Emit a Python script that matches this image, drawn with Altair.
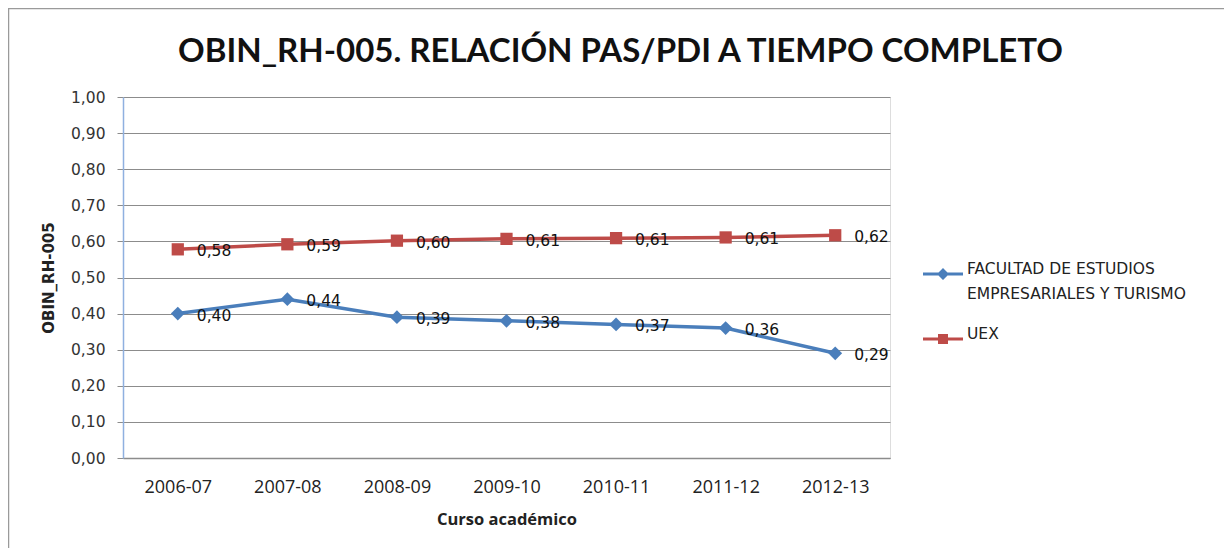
import altair as alt
import pandas as pd

cursos = ["2006-07", "2007-08", "2008-09", "2009-10", "2010-11", "2011-12", "2012-13"]
serie_fac = "FACULTAD DE ESTUDIOS EMPRESARIALES Y TURISMO"
serie_uex = "UEX"
valores_fac = [0.40, 0.44, 0.39, 0.38, 0.37, 0.36, 0.29]
valores_uex = [0.578, 0.592, 0.602, 0.607, 0.609, 0.611, 0.617]
series = [serie_fac, serie_uex]
colores = ["#4a7ebb", "#be4b48"]
formas = ["diamond", "square"]
tamanos = [190, 150]
simbolos_leyenda = [
    "M-1,-0.07H1V0.07H-1Z M0,-0.3L0.3,0L0,0.3L-0.3,0Z",
    "M-1,-0.07H1V0.07H-1Z M-0.25,-0.25H0.25V0.25H-0.25Z",
]
y_ticks = [0.0, 0.1, 0.2, 0.3, 0.4, 0.5, 0.6, 0.7, 0.8, 0.9, 1.0]

df = pd.DataFrame(
    {
        "curso": cursos * 2,
        "valor": valores_fac + valores_uex,
        "serie": [serie_fac] * len(cursos) + [serie_uex] * len(cursos),
    }
)

W, H = 767, 361
PAD_L, PAD_T = 115, 89
TOTAL_W, TOTAL_H = 1216, 540

x_enc = alt.X(
    "curso:N",
    sort=cursos,
    scale=alt.Scale(type="point", padding=0.5),
    axis=alt.Axis(
        title="Curso académico",
        labelFont="Open Sans",
        labelFontSize=18,
        labelColor="#222",
        labelAngle=0,
        labelPadding=20,
        ticks=False,
        domainColor="#8c8c8c",
        domainWidth=1.5,
        grid=False,
        titleFont="Open Sans",
        titleFontSize=16.5,
        titleFontWeight="bold",
        titleColor="#222",
        titlePadding=15,
    ),
)
y_enc = alt.Y(
    "valor:Q",
    scale=alt.Scale(domain=[0, 1], nice=False),
    axis=alt.Axis(
        title="OBIN_RH-005",
        values=y_ticks,
        labelExpr="replace(format(datum.value, '.2f'), '.', ',')",
        labelFont="DejaVu Sans",
        labelFontSize=15.5,
        labelColor="#333",
        labelPadding=12,
        tickSize=6,
        tickColor="#8c8c8c",
        domainColor="#8fb0e0",
        domainWidth=1.5,
        gridColor="#8c8c8c",
        gridWidth=1,
        titleFont="DejaVu Sans",
        titleFontSize=15,
        titleFontWeight="bold",
        titleColor="#222",
        titleX=-75,
        titleY=H / 2,
        titleAngle=-90,
        titleAlign="center",
        titleBaseline="middle",
    ),
)

borde = alt.Chart(pd.DataFrame({"k": [0]})).mark_rect(
    fill=None, stroke="#9a9a9a", strokeWidth=1.5, clip=False
).encode(
    x=alt.value(-PAD_L + 0.5),
    x2=alt.value(TOTAL_W - PAD_L + 10),
    y=alt.value(-PAD_T + 0.5),
    y2=alt.value(TOTAL_H - PAD_T + 10),
)

base = alt.Chart(df)

capas = [borde]
for s, c in zip(series, colores):
    capas.append(
        base.transform_filter(alt.datum.serie == s)
        .mark_line(strokeWidth=3.5, color=c)
        .encode(x=x_enc, y=y_enc)
    )
for s, c, f, t in zip(series, colores, formas, tamanos):
    capas.append(
        base.transform_filter(alt.datum.serie == s)
        .mark_point(shape=f, filled=True, size=t, opacity=1, color=c)
        .encode(x=x_enc, y=y_enc)
    )

etiquetas = base.transform_calculate(
    lbl="replace(format(datum.valor, '.2f'), '.', ',')"
).mark_text(
    align="left", baseline="middle", dx=19, dy=2, font="DejaVu Sans", fontSize=15.5, color="#111"
).encode(x=x_enc, y=y_enc, text="lbl:N")
capas.append(etiquetas)

leyenda = base.transform_filter("false").mark_point(filled=True, opacity=1).encode(
    x=x_enc,
    y=y_enc,
    color=alt.Color(
        "serie:N",
        scale=alt.Scale(domain=series, range=colores),
        legend=alt.Legend(
            title=None,
            orient="none",
            legendX=800,
            legendY=157,
            symbolSize=1600,
            symbolStrokeWidth=0,
            symbolOpacity=1,
            labelFont="DejaVu Sans",
            labelFontSize=15.5,
            labelColor="#222",
            labelBaseline="alphabetic",
            labelOffset=4,
            labelLimit=400,
            rowPadding=16,
            labelExpr="datum.label == '" + serie_fac + "' ? ['FACULTAD DE ESTUDIOS', 'EMPRESARIALES Y TURISMO'] : datum.label",
        ),
    ),
    shape=alt.Shape("serie:N", scale=alt.Scale(domain=series, range=simbolos_leyenda)),
)
capas.append(leyenda)

chart = (
    alt.layer(*capas)
    .properties(
        width=W,
        height=H,
        padding={"left": PAD_L, "top": PAD_T, "right": TOTAL_W - PAD_L - W, "bottom": TOTAL_H - PAD_T - H},
        autosize=alt.AutoSizeParams(type="none"),
        title=alt.TitleParams(
            "OBIN_RH-005. RELACIÓN PAS/PDI A TIEMPO COMPLETO",
            font="Lato",
            fontSize=33,
            fontWeight="bold",
            color="#111",
            anchor="middle",
            baseline="alphabetic",
            dx=114,
            dy=87,
            offset=0,
        ),
    )
    .configure_view(stroke="#9ab5dd", strokeWidth=1.2)
    .configure(background="white", style={"guide-label": {"lineHeight": 25}})
)

chart.save("out.html", embed_options={"renderer": "svg", "actions": False})
